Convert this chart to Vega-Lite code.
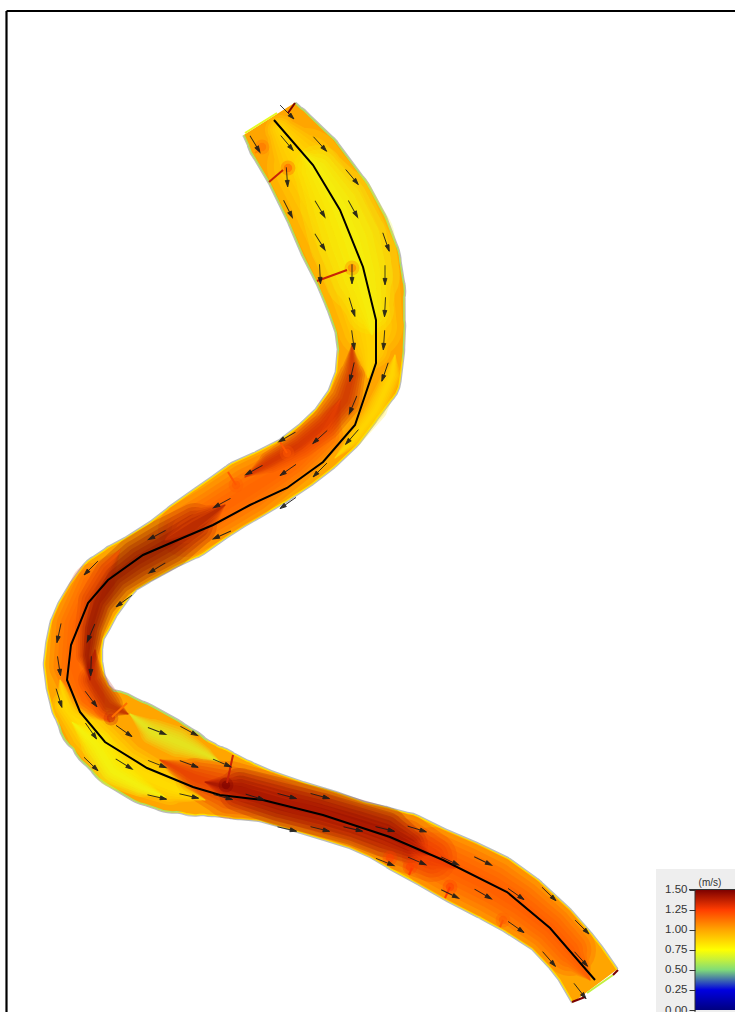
{"$schema":"https://vega.github.io/schema/vega-lite/v6.json","width":735,"height":1012,"padding":0,"autosize":{"type":"none"},"background":"white","config":{"view":{"stroke":null}},
"datasets":{
"base":[{"i":1,"x":269,"y":119,"w":61,"v":1,"g":1},{"i":2,"x":282,"y":137,"w":70,"v":1,"g":1},{"i":3,"x":305,"y":166,"w":80,"v":1,"g":1},{"i":4,"x":330,"y":207,"w":89,"v":1,"g":1},{"i":5,"x":344,"y":236,"w":92,"v":1,"g":1},{"i":6,"x":356,"y":263,"w":89,"v":1,"g":1},{"i":7,"x":364,"y":291,"w":82,"v":1,"g":1},{"i":8,"x":370,"y":326,"w":70,"v":1,"g":1},{"i":9,"x":371,"y":349,"w":66,"v":1,"g":1},{"i":10,"x":368,"y":378,"w":65,"v":1,"g":0},{"i":11,"x":353,"y":405,"w":56,"v":1,"g":0},{"i":12,"x":337,"y":427,"w":55,"v":1,"g":0},{"i":13,"x":317,"y":446,"w":55,"v":1,"g":0},{"i":14,"x":295,"y":463,"w":55,"v":1,"g":0},{"i":15,"x":271,"y":477,"w":58,"v":1,"g":0},{"i":16,"x":246,"y":490,"w":61,"v":1,"g":0},{"i":17,"x":229,"y":501,"w":59,"v":1,"g":0},{"i":18,"x":211,"y":513,"w":58,"v":1,"g":0},{"i":19,"x":187,"y":530,"w":58,"v":1,"g":0},{"i":20,"x":164,"y":544,"w":52,"v":1,"g":0},{"i":21,"x":137,"y":560,"w":50,"v":1,"g":0},{"i":22,"x":121,"y":569,"w":51,"v":1,"g":0},{"i":23,"x":106,"y":582,"w":56,"v":1,"g":0},{"i":24,"x":93,"y":600,"w":56,"v":1,"g":0},{"i":25,"x":84,"y":616,"w":57,"v":1,"g":0},{"i":26,"x":77,"y":630,"w":55,"v":1,"g":0},{"i":27,"x":74,"y":647,"w":56,"v":1,"g":0},{"i":28,"x":73,"y":664,"w":58,"v":1,"g":0},{"i":29,"x":76,"y":684,"w":59,"v":1,"g":0},{"i":30,"x":82,"y":702,"w":62,"v":1,"g":0},{"i":31,"x":94,"y":720,"w":71,"v":1,"g":2},{"i":32,"x":111,"y":732,"w":83,"v":1,"g":2},{"i":33,"x":129,"y":745,"w":91,"v":1,"g":2},{"i":34,"x":155,"y":760,"w":92,"v":1,"g":2},{"i":35,"x":174,"y":769,"w":87,"v":1,"g":2},{"i":36,"x":195,"y":777,"w":77,"v":1,"g":0},{"i":37,"x":212,"y":781,"w":70,"v":1,"g":0},{"i":38,"x":238,"y":789,"w":60,"v":1,"g":0},{"i":39,"x":265,"y":796,"w":51,"v":1,"g":0},{"i":40,"x":297,"y":806,"w":49,"v":1,"g":0},{"i":41,"x":330,"y":816,"w":49,"v":1,"g":0},{"i":42,"x":357,"y":825,"w":48,"v":1,"g":0},{"i":43,"x":381,"y":833,"w":53,"v":1,"g":0},{"i":44,"x":405,"y":843,"w":60,"v":1,"g":0},{"i":45,"x":432,"y":857,"w":61,"v":1,"g":0},{"i":46,"x":462,"y":872,"w":65,"v":1,"g":0},{"i":47,"x":492,"y":887,"w":66,"v":1,"g":0},{"i":48,"x":519,"y":904,"w":62,"v":1,"g":0},{"i":49,"x":550,"y":928,"w":55,"v":1,"g":0},{"i":50,"x":570,"y":950,"w":54,"v":1,"g":0},{"i":51,"x":581,"y":964,"w":54,"v":1,"g":0},{"i":52,"x":595,"y":986,"w":56,"v":1,"g":0}],
"zones":[
{"z":1,"i":1,"x":280,"y":130,"w":30,"v":0.82},{"z":1,"i":2,"x":305,"y":166,"w":76,"v":0.82},{"z":1,"i":3,"x":330,"y":207,"w":86,"v":0.82},{"z":1,"i":4,"x":356,"y":263,"w":86,"v":0.82},{"z":1,"i":5,"x":370,"y":326,"w":66,"v":0.82},{"z":1,"i":6,"x":371,"y":349,"w":40,"v":0.82},{"z":1,"i":7,"x":368,"y":378,"w":0,"v":0.82},
{"z":2,"i":1,"x":300,"y":150,"w":0,"v":0.72},{"z":2,"i":2,"x":318,"y":170,"w":50,"v":0.72},{"z":2,"i":3,"x":338,"y":205,"w":76,"v":0.72},{"z":2,"i":4,"x":352,"y":240,"w":86,"v":0.72},{"z":2,"i":5,"x":362,"y":275,"w":76,"v":0.72},{"z":2,"i":6,"x":370,"y":310,"w":48,"v":0.72},{"z":2,"i":7,"x":372,"y":335,"w":0,"v":0.72},
{"z":4,"i":1,"x":60,"y":680,"w":0,"v":0.8},{"z":4,"i":2,"x":67,"y":705,"w":30,"v":0.8},{"z":4,"i":3,"x":90,"y":732,"w":46,"v":0.8},{"z":4,"i":4,"x":122,"y":766,"w":50,"v":0.8},{"z":4,"i":5,"x":170,"y":787,"w":36,"v":0.8},{"z":4,"i":6,"x":205,"y":800,"w":0,"v":0.8},
{"z":5,"i":1,"x":72,"y":722,"w":0,"v":0.72},{"z":5,"i":2,"x":97,"y":745,"w":32,"v":0.72},{"z":5,"i":3,"x":112,"y":770,"w":34,"v":0.72},{"z":5,"i":4,"x":140,"y":787,"w":20,"v":0.72},{"z":5,"i":5,"x":165,"y":797,"w":0,"v":0.72},
{"z":6,"i":1,"x":130,"y":714,"w":0,"v":0.68},{"z":6,"i":2,"x":153,"y":732,"w":26,"v":0.68},{"z":6,"i":3,"x":178,"y":742,"w":30,"v":0.68},{"z":6,"i":4,"x":205,"y":754,"w":14,"v":0.68},{"z":6,"i":5,"x":220,"y":762,"w":0,"v":0.68},
{"z":7,"i":1,"x":395,"y":355,"w":0,"v":0.82},{"z":7,"i":2,"x":392,"y":375,"w":18,"v":0.82},{"z":7,"i":3,"x":376,"y":410,"w":22,"v":0.82},{"z":7,"i":4,"x":355,"y":438,"w":16,"v":0.82},{"z":7,"i":5,"x":335,"y":458,"w":0,"v":0.82},
{"z":8,"i":1,"x":340,"y":400,"w":0,"v":1.2},{"z":8,"i":2,"x":323,"y":435,"w":40,"v":1.2},{"z":8,"i":3,"x":293,"y":463,"w":44,"v":1.2},{"z":8,"i":4,"x":250,"y":490,"w":56,"v":1.2},{"z":8,"i":5,"x":215,"y":512,"w":54,"v":1.2},{"z":8,"i":6,"x":185,"y":530,"w":54,"v":1.2},{"z":8,"i":7,"x":165,"y":540,"w":0,"v":1.2},
{"z":9,"i":1,"x":352,"y":345,"w":0,"v":1.35},{"z":9,"i":2,"x":352,"y":375,"w":26,"v":1.35},{"z":9,"i":3,"x":345,"y":400,"w":34,"v":1.35},{"z":9,"i":4,"x":325,"y":425,"w":32,"v":1.35},{"z":9,"i":5,"x":300,"y":445,"w":28,"v":1.35},{"z":9,"i":6,"x":270,"y":462,"w":22,"v":1.35},{"z":9,"i":7,"x":245,"y":477,"w":0,"v":1.35},
{"z":10,"i":1,"x":120,"y":550,"w":0,"v":1.2},{"z":10,"i":2,"x":93,"y":585,"w":44,"v":1.2},{"z":10,"i":3,"x":77,"y":625,"w":50,"v":1.2},{"z":10,"i":4,"x":74,"y":665,"w":50,"v":1.2},{"z":10,"i":5,"x":85,"y":700,"w":40,"v":1.2},{"z":10,"i":6,"x":110,"y":722,"w":0,"v":1.2},
{"z":11,"i":1,"x":225,"y":505,"w":0,"v":1.48},{"z":11,"i":2,"x":195,"y":525,"w":44,"v":1.48},{"z":11,"i":3,"x":168,"y":543,"w":52,"v":1.48},{"z":11,"i":4,"x":138,"y":560,"w":50,"v":1.48},{"z":11,"i":5,"x":115,"y":577,"w":44,"v":1.48},{"z":11,"i":6,"x":97,"y":602,"w":38,"v":1.48},{"z":11,"i":7,"x":90,"y":628,"w":30,"v":1.48},{"z":11,"i":8,"x":87,"y":655,"w":22,"v":1.48},{"z":11,"i":9,"x":90,"y":680,"w":0,"v":1.48},
{"z":13,"i":1,"x":95,"y":650,"w":0,"v":1.38},{"z":13,"i":2,"x":92,"y":680,"w":28,"v":1.38},{"z":13,"i":3,"x":108,"y":705,"w":30,"v":1.38},{"z":13,"i":4,"x":128,"y":714,"w":0,"v":1.38},
{"z":14,"i":1,"x":400,"y":840,"w":0,"v":1.22},{"z":14,"i":2,"x":432,"y":857,"w":60,"v":1.22},{"z":14,"i":3,"x":462,"y":872,"w":64,"v":1.22},{"z":14,"i":4,"x":492,"y":887,"w":64,"v":1.22},{"z":14,"i":5,"x":519,"y":904,"w":60,"v":1.22},{"z":14,"i":6,"x":550,"y":928,"w":54,"v":1.22},{"z":14,"i":7,"x":570,"y":950,"w":52,"v":1.22},{"z":14,"i":8,"x":590,"y":980,"w":0,"v":1.22},
{"z":15,"i":1,"x":160,"y":760,"w":0,"v":1.3},{"z":15,"i":2,"x":195,"y":778,"w":40,"v":1.3},{"z":15,"i":3,"x":230,"y":790,"w":58,"v":1.3},{"z":15,"i":4,"x":265,"y":796,"w":50,"v":1.3},{"z":15,"i":5,"x":297,"y":806,"w":48,"v":1.3},{"z":15,"i":6,"x":330,"y":816,"w":48,"v":1.3},{"z":15,"i":7,"x":357,"y":825,"w":47,"v":1.3},{"z":15,"i":8,"x":381,"y":833,"w":52,"v":1.3},{"z":15,"i":9,"x":405,"y":843,"w":58,"v":1.3},{"z":15,"i":10,"x":432,"y":857,"w":50,"v":1.3},{"z":15,"i":11,"x":455,"y":868,"w":0,"v":1.3},
{"z":16,"i":1,"x":205,"y":782,"w":0,"v":1.5},{"z":16,"i":2,"x":240,"y":790,"w":44,"v":1.5},{"z":16,"i":3,"x":280,"y":802,"w":48,"v":1.5},{"z":16,"i":4,"x":320,"y":812,"w":48,"v":1.5},{"z":16,"i":5,"x":355,"y":822,"w":47,"v":1.5},{"z":16,"i":6,"x":385,"y":832,"w":50,"v":1.5},{"z":16,"i":7,"x":410,"y":845,"w":36,"v":1.5},{"z":16,"i":8,"x":430,"y":855,"w":0,"v":1.5}],
"masks":[{"x":269,"y":119,"x2":245,"y2":81},{"x":595,"y":986,"x2":619,"y2":1018}],
"tribs":[{"x":255,"y":153,"x2":263,"y2":147,"v":1.1},{"x":269,"y":182,"x2":283,"y2":170,"v":1.35},{"x":317,"y":281,"x2":347,"y2":270,"v":1.35},{"x":280,"y":442,"x2":287,"y2":453,"v":1.2},{"x":228,"y":472,"x2":236,"y2":485,"v":1.2},{"x":127,"y":703,"x2":112,"y2":717,"v":1.15},{"x":233,"y":755,"x2":227,"y2":783,"v":1.35},{"x":412,"y":868,"x2":409,"y2":875,"v":1.25},{"x":450,"y":887,"x2":445,"y2":898,"v":1.25},{"x":503,"y":920,"x2":500,"y2":927,"v":1.2},{"x":288,"y":113,"x2":295,"y2":103,"v":1.5},{"x":572,"y":1002,"x2":585,"y2":997,"v":1.5},{"x":587,"y":993,"x2":613,"y2":975,"v":0.62},{"x":613,"y":975,"x2":618,"y2":970,"v":1.5},{"x":245,"y":133,"x2":277,"y2":113,"v":0.7}],
"spots":[{"x":262,"y":147,"v":1.15},{"x":288,"y":168,"v":1.2},{"x":352,"y":268,"v":1.15},{"x":287,"y":453,"v":1.2},{"x":236,"y":485,"v":1.2},{"x":111,"y":718,"v":1.35},{"x":226,"y":785,"v":1.5},{"x":410,"y":867,"v":1.25},{"x":450,"y":887,"v":1.25},{"x":503,"y":920,"v":1.2},{"x":390,"y":858,"v":1.25}],
"center":[{"i":1,"x":274,"y":120},{"i":2,"x":313,"y":165},{"i":3,"x":340,"y":210},{"i":4,"x":363,"y":267},{"i":5,"x":376,"y":320},{"i":6,"x":376,"y":363},{"i":7,"x":355,"y":425},{"i":8,"x":323,"y":462},{"i":9,"x":287,"y":488},{"i":10,"x":250,"y":505},{"i":11,"x":213,"y":525},{"i":12,"x":173,"y":542},{"i":13,"x":143,"y":555},{"i":14,"x":108,"y":580},{"i":15,"x":88,"y":603},{"i":16,"x":71,"y":645},{"i":17,"x":67,"y":680},{"i":18,"x":80,"y":712},{"i":19,"x":105,"y":742},{"i":20,"x":147,"y":768},{"i":21,"x":193,"y":787},{"i":22,"x":220,"y":795},{"i":23,"x":263,"y":800},{"i":24,"x":323,"y":815},{"i":25,"x":390,"y":837},{"i":26,"x":443,"y":860},{"i":27,"x":507,"y":892},{"i":28,"x":550,"y":928},{"i":29,"x":595,"y":980}],
"arrows":[{"x":287,"y":112,"d":135},{"x":255,"y":144,"d":149},{"x":287,"y":143,"d":140},{"x":320,"y":144,"d":138},{"x":287,"y":177,"d":176},{"x":352,"y":177,"d":140},{"x":288,"y":209,"d":153},{"x":320,"y":209,"d":149},{"x":353,"y":209,"d":151},{"x":320,"y":242,"d":148},{"x":386,"y":242,"d":161},{"x":320,"y":274,"d":177},{"x":352,"y":274,"d":180},{"x":385,"y":275,"d":180},{"x":352,"y":307,"d":163},{"x":385,"y":307,"d":183},{"x":353,"y":340,"d":172},{"x":384,"y":340,"d":184},{"x":352,"y":372,"d":193},{"x":385,"y":372,"d":199},{"x":353,"y":405,"d":203},{"x":352,"y":437,"d":221},{"x":320,"y":437,"d":228},{"x":320,"y":470,"d":225},{"x":287,"y":437,"d":240},{"x":288,"y":470,"d":235},{"x":254,"y":470,"d":241},{"x":288,"y":503,"d":235},{"x":222,"y":503,"d":241},{"x":222,"y":535,"d":246},{"x":157,"y":535,"d":242},{"x":157,"y":568,"d":238},{"x":91,"y":568,"d":225},{"x":124,"y":601,"d":234},{"x":91,"y":633,"d":203},{"x":59,"y":633,"d":192},{"x":91,"y":666,"d":182},{"x":59,"y":666,"d":171},{"x":59,"y":698,"d":163},{"x":91,"y":699,"d":143},{"x":91,"y":731,"d":145},{"x":124,"y":731,"d":125},{"x":157,"y":731,"d":111},{"x":189,"y":731,"d":118},{"x":91,"y":764,"d":134},{"x":124,"y":764,"d":122},{"x":157,"y":764,"d":112},{"x":189,"y":764,"d":110},{"x":222,"y":763,"d":113},{"x":157,"y":797,"d":103},{"x":189,"y":796,"d":103},{"x":223,"y":797,"d":105},{"x":255,"y":797,"d":107},{"x":287,"y":796,"d":105},{"x":320,"y":796,"d":105},{"x":287,"y":829,"d":103},{"x":320,"y":829,"d":104},{"x":353,"y":829,"d":103},{"x":385,"y":829,"d":104},{"x":417,"y":829,"d":107},{"x":385,"y":862,"d":112},{"x":417,"y":861,"d":113},{"x":450,"y":861,"d":115},{"x":483,"y":861,"d":116},{"x":450,"y":894,"d":116},{"x":483,"y":894,"d":120},{"x":516,"y":894,"d":125},{"x":549,"y":894,"d":134},{"x":516,"y":927,"d":125},{"x":582,"y":927,"d":135},{"x":549,"y":959,"d":139},{"x":581,"y":959,"d":138},{"x":580,"y":991,"d":142}],
"bar":[{"x":695,"x2":735,"lo":0,"hi":1.5}]
},
"encoding":{"x":{"field":"x","type":"quantitative","scale":{"domain":[0,735],"nice":false,"zero":false},"axis":null},"y":{"field":"y","type":"quantitative","scale":{"domain":[1012,0],"nice":false,"zero":false},"axis":null},"color":{"field":"v","type":"quantitative","legend":null,"scale":{"domain":[0,0.25,0.5,0.625,0.75,1,1.25,1.5],"range":["#000080","#0000e0","#80dc78","#c4f03c","#ffff00","#ffa500","#ff3c00","#7a0000"]}}},
"resolve":{"scale":{"y":"independent","size":"independent"},"axis":{"y":"independent"}},
"layer":[
{"data":{"name":"base"},"mark":{"type":"trail","opacity":0.5},"encoding":{"order":{"field":"i"},"size":{"field":"w","type":"quantitative","legend":null,"scale":{"domain":[0,100],"range":[2.5,102.5]}},"color":{"value":"#777777"}}},
{"data":{"name":"base"},"mark":{"type":"trail"},"encoding":{"order":{"field":"i"},"size":{"field":"w","type":"quantitative","legend":null,"scale":{"domain":[0,100],"range":[0,100]}},"color":{"value":"#ffe000"}}},
{"data":{"name":"base"},"transform":[{"filter":"datum.g>0"}],"mark":{"type":"trail"},"encoding":{"order":{"field":"i"},"detail":{"field":"g"},"size":{"field":"w","type":"quantitative","legend":null,"scale":{"domain":[0,100],"range":[0,100]}},"color":{"value":"#a6e26a"}}},
{"data":{"name":"base"},"mark":{"type":"trail"},"encoding":{"order":{"field":"i"},"size":{"field":"w","type":"quantitative","legend":null,"scale":{"domain":[0,100],"range":[-2.5,97.5]}}}},
{"data":{"name":"zones"},"mark":{"type":"trail","opacity":0.22},"encoding":{"order":{"field":"i"},"detail":{"field":"z"},"size":{"field":"w","type":"quantitative","legend":null,"scale":{"domain":[0,100],"range":[0,100]}}}},
{"data":{"name":"zones"},"mark":{"type":"trail","opacity":0.22},"encoding":{"order":{"field":"i"},"detail":{"field":"z"},"size":{"field":"w","type":"quantitative","legend":null,"scale":{"domain":[0,100],"range":[0,82]}}}},
{"data":{"name":"zones"},"mark":{"type":"trail","opacity":0.22},"encoding":{"order":{"field":"i"},"detail":{"field":"z"},"size":{"field":"w","type":"quantitative","legend":null,"scale":{"domain":[0,100],"range":[0,66]}}}},
{"data":{"name":"zones"},"mark":{"type":"trail","opacity":0.22},"encoding":{"order":{"field":"i"},"detail":{"field":"z"},"size":{"field":"w","type":"quantitative","legend":null,"scale":{"domain":[0,100],"range":[0,50]}}}},
{"data":{"name":"zones"},"mark":{"type":"trail","opacity":0.22},"encoding":{"order":{"field":"i"},"detail":{"field":"z"},"size":{"field":"w","type":"quantitative","legend":null,"scale":{"domain":[0,100],"range":[0,34]}}}},
{"data":{"name":"zones"},"mark":{"type":"trail","opacity":0.22},"encoding":{"order":{"field":"i"},"detail":{"field":"z"},"size":{"field":"w","type":"quantitative","legend":null,"scale":{"domain":[0,100],"range":[0,18]}}}},
{"data":{"name":"masks"},"mark":{"type":"rule","strokeWidth":90},"encoding":{"x2":{"field":"x2"},"y2":{"field":"y2"},"color":{"value":"white"}}},
{"data":{"name":"spots"},"mark":{"type":"circle","opacity":0.3,"size":220},"encoding":{}},
{"data":{"name":"spots"},"mark":{"type":"circle","opacity":0.5,"size":70},"encoding":{}},
{"data":{"name":"tribs"},"mark":{"type":"rule","strokeWidth":2},"encoding":{"x2":{"field":"x2"},"y2":{"field":"y2"}}},
{"data":{"name":"center"},"mark":{"type":"line","strokeWidth":2},"encoding":{"order":{"field":"i"},"color":{"value":"black"}}},
{"data":{"name":"arrows"},"mark":{"type":"point","shape":"M0,1L0,-1M0,-1L-0.2,-0.35L0.2,-0.35Z","size":380,"filled":true,"strokeWidth":0.9,"opacity":0.9},"encoding":{"angle":{"field":"d","type":"quantitative","scale":{"domain":[0,360],"range":[0,360]}},"color":{"value":"#1a1a1a"},"stroke":{"value":"#1a1a1a"}}},
{"data":{"values":[{"x":6.5,"y":11,"x2":735,"y2":11},{"x":6.5,"y":11,"x2":6.5,"y2":1012}]},"mark":{"type":"rule","strokeWidth":2.2},"encoding":{"x2":{"field":"x2"},"y2":{"field":"y2"},"color":{"value":"black"}}},
{"data":{"values":[{"x":656,"y":869,"x2":735,"y2":1012}]},"mark":{"type":"rect"},"encoding":{"x2":{"field":"x2"},"y2":{"field":"y2"},"color":{"value":"#eeeeee"}}},
{"data":{"name":"bar"},"mark":{"type":"rect","fill":{"gradient":"linear","x1":0,"y1":0,"x2":0,"y2":1,"stops":[{"offset":0,"color":"#7a0000"},{"offset":0.1667,"color":"#ff3c00"},{"offset":0.3333,"color":"#ffa500"},{"offset":0.5,"color":"#ffff00"},{"offset":0.5833,"color":"#c4f03c"},{"offset":0.6667,"color":"#80dc78"},{"offset":0.8333,"color":"#0000e0"},{"offset":1,"color":"#000080"}]}},"encoding":{"color":null,"x2":{"field":"x2"},"y":{"field":"lo","type":"quantitative","scale":{"domain":[0,1.5],"range":[1010,889.5],"nice":false,"zero":false},"axis":{"orient":"left","offset":-695,"values":[0,0.25,0.5,0.75,1,1.25,1.5],"format":".2f","title":null,"grid":false,"domain":false,"labelFont":"Liberation Sans","labelFontSize":11.5,"labelColor":"#333333","tickColor":"#333333","tickSize":6,"labelPadding":2,"zindex":1}},"y2":{"field":"hi"}}},
{"data":{"values":[{"x":689,"y":889.5,"x2":735,"y2":889.5},{"x":695,"y":889.5,"x2":695,"y2":1012}]},"mark":{"type":"rule","strokeWidth":1},"encoding":{"x2":{"field":"x2"},"y2":{"field":"y2"},"color":{"value":"#333333"}}},
{"data":{"values":[{"x":710,"y":883,"t":"(m/s)"}]},"mark":{"type":"text","font":"Liberation Sans","fontSize":10,"align":"center","baseline":"middle"},"encoding":{"text":{"field":"t"},"color":{"value":"#333333"}}}
]}
